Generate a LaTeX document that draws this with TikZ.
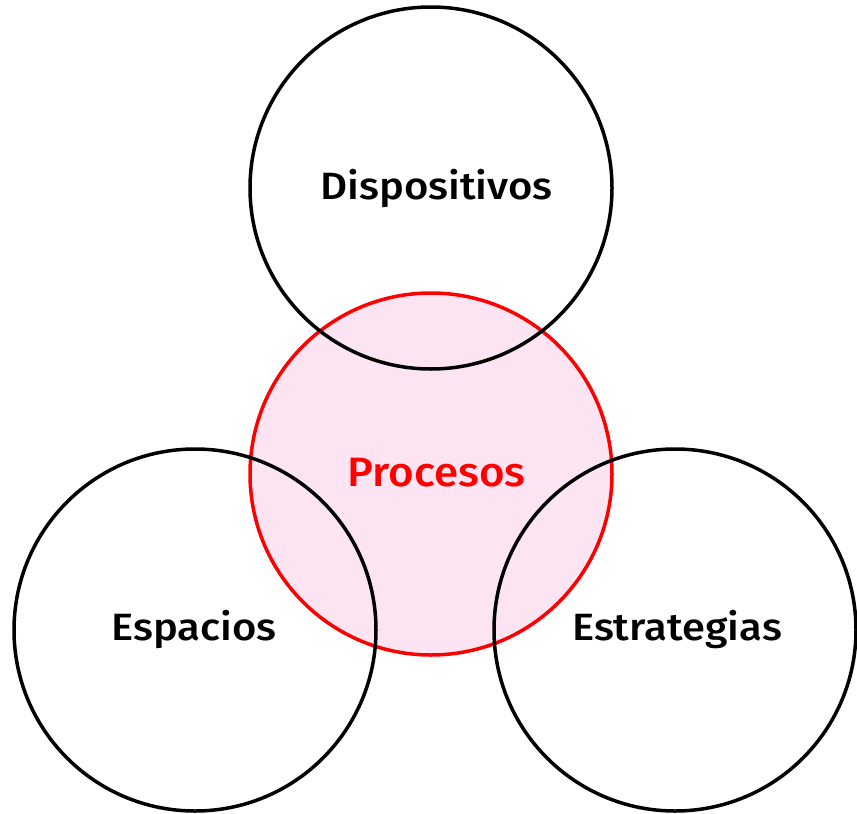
\documentclass[tikz,border=0pt]{standalone}
\usepackage{fontspec}
\setmainfont{Fira Sans}[UprightFont={* Medium}]
\definecolor{pinkfill}{RGB}{252,228,242}
\definecolor{redline}{RGB}{255,0,0}
\tikzset{
  blackcircle/.style={draw=black,line width=3.5pt,circle,minimum size=362pt,inner sep=0pt},
  redcircle/.style={draw=redline,fill=pinkfill,line width=3.5pt,circle,minimum size=362pt,inner sep=0pt},
  lbl/.style={anchor=base,inner sep=0pt,font=\fontsize{38}{44}\selectfont}
}
\newcommand{\wide}[2]{\scalebox{#1}[1]{#2}}
\begin{document}
\begin{tikzpicture}[x=1pt,y=-1pt]
\useasboundingbox (0,0) rectangle (857,814);
\node[redcircle] (proc) at (431,474) {};
\node[blackcircle] (disp) at (431,188) {};
\node[blackcircle] (esp) at (195,630) {};
\node[blackcircle] (estr) at (675,630) {};
\node[lbl] (tdisp) at (436.5,199) {\wide{1.1}{Dispositivos}};
\node[lbl,text=redline,font=\fontsize{41}{48}\selectfont] (tproc) at (436.5,486) {\wide{1.07}{Procesos}};
\node[lbl] (tesp) at (194,640) {\wide{1.1}{Espacios}};
\node[lbl] (testr) at (677,640) {\wide{1.1}{Estrategias}};
\end{tikzpicture}
\end{document}
